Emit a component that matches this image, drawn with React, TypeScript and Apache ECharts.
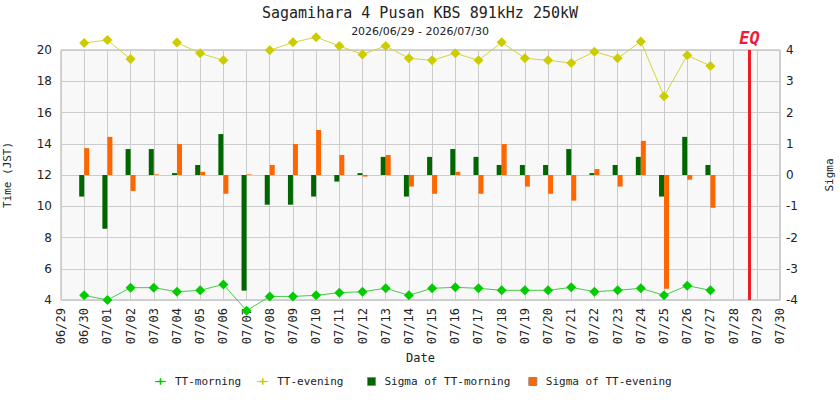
import React, { useEffect, useRef } from "react";
import * as echarts from "echarts";

const TITLE = "Sagamihara 4 Pusan KBS 891kHz 250kW";
const SUBTITLE = "2026/06/29 - 2026/07/30";

const dates = [
  "06/29", "06/30", "07/01", "07/02", "07/03", "07/04", "07/05", "07/06",
  "07/07", "07/08", "07/09", "07/10", "07/11", "07/12", "07/13", "07/14",
  "07/15", "07/16", "07/17", "07/18", "07/19", "07/20", "07/21", "07/22",
  "07/23", "07/24", "07/25", "07/26", "07/27", "07/28", "07/29", "07/30",
];

const ttMorning = [
  null, 4.3, 4.0, 4.79, 4.79, 4.53, 4.62, 5.0, 3.32, 4.23, 4.23, 4.3, 4.47,
  4.53, 4.75, 4.3, 4.75, 4.81, 4.75, 4.62, 4.62, 4.62, 4.81, 4.53, 4.62, 4.75,
  4.3, 4.92, 4.62, null, null, null,
];

const ttEvening = [
  null, 20.45, 20.64, 19.42, null, 20.48, 19.79, 19.34, null, 19.98, 20.49,
  20.82, 20.26, 19.72, 20.26, 19.47, 19.34, 19.79, 19.34, 20.49, 19.47, 19.34,
  19.17, 19.89, 19.47, 20.55, 17.04, 19.66, 18.98, null, null, null,
];

const sigmaMorning = [
  null, -0.69, -1.72, 0.83, 0.83, 0.06, 0.32, 1.31, -3.7, -0.95, -0.95, -0.69,
  -0.21, 0.06, 0.58, -0.69, 0.58, 0.83, 0.58, 0.32, 0.32, 0.32, 0.83, 0.06,
  0.32, 0.58, -0.69, 1.22, 0.32, null, null, null,
];

const sigmaEvening = [
  null, 0.86, 1.22, -0.51, 0.02, 0.99, 0.1, -0.6, 0.02, 0.32, 0.99, 1.44, 0.64,
  -0.05, 0.64, -0.37, -0.6, 0.1, -0.6, 0.99, -0.37, -0.6, -0.82, 0.19, -0.37,
  1.09, -3.64, -0.15, -1.05, null, null, null,
];

// Earthquake position on the date axis (category index, fractional = time of day)
const EQ_POS = 29.68;

const LINE_PLUS = "path://M0,4.6H10V5.4H0Z M4.3,2H5.7V8H4.3Z M2.2,4.3H7.8V5.7H2.2Z";
const MONO = "'DejaVu Sans Mono', 'Liberation Mono', monospace";
const SANS = "'DejaVu Sans', sans-serif";

export default function App() {
  const ref = useRef<HTMLDivElement>(null);

  useEffect(() => {
    document.body.style.margin = "0";
    if (!ref.current) return;
    const chart = echarts.init(ref.current, null, { renderer: "svg" });
    const legendText = {
      fontFamily: MONO,
      fontSize: 11,
      color: "#222",
      padding: [0, 0, 0, 4],
    };
    chart.setOption({
      animation: false,
      backgroundColor: "#ffffff",
      title: [
        {
          text: TITLE,
          left: "center",
          top: 0,
          textStyle: { fontFamily: MONO, fontSize: 15, fontWeight: "normal", color: "#222" },
        },
        {
          text: SUBTITLE,
          left: "center",
          top: 21,
          textStyle: { fontFamily: SANS, fontSize: 11, fontWeight: "normal", color: "#222" },
        },
      ],
      legend: [
        {
          bottom: 8,
          left: 150,
          itemWidth: 11,
          itemHeight: 7,
          itemGap: 16,
          textStyle: legendText,
          data: [
            { name: "TT-morning", icon: LINE_PLUS },
            { name: "TT-evening", icon: LINE_PLUS },
          ],
        },
        {
          bottom: 8,
          left: 362,
          itemWidth: 8,
          itemHeight: 8,
          itemGap: 18,
          textStyle: legendText,
          data: [
            {
              name: "Sigma of TT-morning",
              icon: "rect",
              itemStyle: { borderColor: "#888", borderWidth: 1 },
            },
            {
              name: "Sigma of TT-evening",
              icon: "rect",
              itemStyle: { borderColor: "#888", borderWidth: 1 },
            },
          ],
        },
      ],
      grid: {
        left: 61,
        right: 60,
        top: 50,
        bottom: 100,
        outerBoundsMode: "none",
        containLabel: false,
        show: true,
        backgroundColor: "#f8f8f8",
        borderColor: "#aaaaaa",
        borderWidth: 1,
      },
      xAxis: [
        {
          type: "category",
          data: dates,
          boundaryGap: false,
          name: "Date",
          nameLocation: "middle",
          nameGap: 51,
          nameTextStyle: { fontFamily: MONO, fontSize: 12, color: "#222" },
          axisLine: { show: false },
          axisTick: { show: false },
          axisLabel: {
            interval: 0,
            rotate: 90,
            fontFamily: MONO,
            fontSize: 12,
            color: "#222",
            margin: 8,
          },
          splitLine: { show: true, interval: 0, lineStyle: { color: "#cccccc", width: 1 } },
        },
        {
          type: "value",
          min: 0,
          max: dates.length - 1,
          show: false,
        },
      ],
      yAxis: [
        {
          type: "value",
          min: 4,
          max: 20,
          interval: 2,
          position: "left",
          name: "Time (JST)",
          nameLocation: "middle",
          nameRotate: 90,
          nameGap: 48,
          nameTextStyle: { fontFamily: MONO, fontSize: 11, color: "#222" },
          axisLine: { show: false },
          axisTick: { show: false },
          axisLabel: { fontFamily: SANS, fontSize: 12, color: "#222", margin: 9 },
          splitLine: { show: true, lineStyle: { color: "#cccccc", width: 1 } },
        },
        {
          type: "value",
          min: -4,
          max: 4,
          interval: 1,
          position: "right",
          name: "Sigma",
          nameLocation: "middle",
          nameRotate: 90,
          nameGap: 44,
          nameTextStyle: { fontFamily: MONO, fontSize: 11, color: "#222" },
          axisLine: { show: false },
          axisTick: { show: false },
          axisLabel: { fontFamily: SANS, fontSize: 12, color: "#222", margin: 6 },
          splitLine: { show: false },
        },
      ],
      series: [
        {
          name: "TT-morning",
          type: "line",
          data: ttMorning,
          xAxisIndex: 0,
          yAxisIndex: 0,
          clip: false,
          symbol: "diamond",
          symbolSize: 10,
          connectNulls: false,
          itemStyle: { color: "#00cc00" },
          lineStyle: { color: "#44cc44", width: 1 },
          z: 5,
        },
        {
          name: "TT-evening",
          type: "line",
          data: ttEvening,
          xAxisIndex: 0,
          yAxisIndex: 0,
          clip: false,
          symbol: "diamond",
          symbolSize: 10,
          connectNulls: false,
          itemStyle: { color: "#cccc00" },
          lineStyle: { color: "#d4d43c", width: 1 },
          z: 5,
        },
        {
          name: "Sigma of TT-morning",
          type: "bar",
          data: sigmaMorning,
          xAxisIndex: 0,
          yAxisIndex: 1,
          barWidth: 5,
          barGap: "0%",
          itemStyle: { color: "#006600" },
          z: 3,
        },
        {
          name: "Sigma of TT-evening",
          type: "bar",
          data: sigmaEvening,
          xAxisIndex: 0,
          yAxisIndex: 1,
          barWidth: 5,
          barGap: "0%",
          itemStyle: { color: "#ff6600" },
          z: 3,
        },
        {
          name: "EQ",
          type: "line",
          xAxisIndex: 1,
          yAxisIndex: 0,
          data: [],
          silent: true,
          markLine: {
            silent: true,
            symbol: "none",
            animation: false,
            lineStyle: { color: "#ee1c25", width: 3, type: "solid" },
            label: {
              show: true,
              position: "end",
              formatter: "EQ",
              distance: 4,
              color: "#ee1c3c",
              fontFamily: MONO,
              fontSize: 17,
              fontWeight: "bold",
              fontStyle: "italic",
            },
            data: [{ xAxis: EQ_POS }],
          },
          z: 6,
        },
      ],
    });
    return () => chart.dispose();
  }, []);

  return <div ref={ref} style={{ width: 840, height: 400 }} />;
}
